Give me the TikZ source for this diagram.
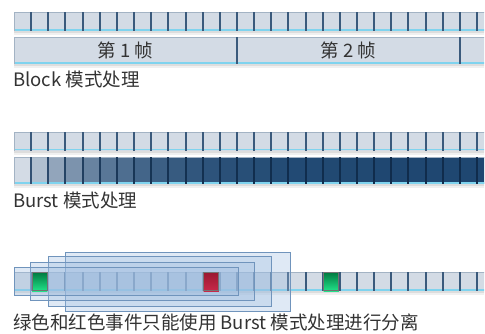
\documentclass[tikz,border=0pt]{standalone}
\usepackage{fontspec}
\setmainfont{Noto Sans CJK SC}
\definecolor{cellfill}{HTML}{D3DBE5}
\definecolor{celledge}{HTML}{3A5A7C}
\definecolor{darkedge}{HTML}{0F2C4C}
\definecolor{cellcyan}{HTML}{7FD3EE}
\definecolor{celltop}{HTML}{A3B3C4}
\definecolor{darkb}{HTML}{1D4670}
\definecolor{txt}{HTML}{333333}
\definecolor{winfill}{HTML}{9FBDE0}
\definecolor{winedge}{HTML}{7094BC}
\definecolor{gtop}{HTML}{007A40}
\definecolor{gbot}{HTML}{22E38A}
\definecolor{rtop}{HTML}{9A1830}
\definecolor{rbot}{HTML}{C8284A}
\def\cp{17.15}
\newcommand\rowshadow[1]{%
  \fill[black,opacity=0.06] (14,#1) rectangle (485,#1+4);
  \fill[black,opacity=0.08] (14,#1) rectangle (485,#1+2);
}
% full row frame: ytop, ybot
\newcommand\rowlines[2]{%
  \draw[celltop, line width=1pt] (14,#1+0.5) -- (485,#1+0.5);
  \draw[cellcyan, line width=1.8pt] (14,#2-1.3) -- (485,#2-1.3);
  \draw[celltop, line width=1pt] (14.5,#1) -- (14.5,#2);
}
\newcommand\cellrow[2]{%
  \rowshadow{#2}
  \fill[cellfill] (14,#1) rectangle (485,#2);
  \rowlines{#1}{#2}
  \foreach \i in {1,...,28} {
    \pgfmathsetmacro\xa{14+\i*\cp}
    \draw[celledge, line width=2pt] (\xa,#1) -- (\xa,#2);
  }
}
\tikzset{lbl/.style={text=txt, font=\fontsize{18.5}{22}\selectfont, inner sep=0pt},
  win/.style={fill=winfill, fill opacity=0.33, draw=winedge, line width=1pt}}
\begin{document}
\begin{tikzpicture}[x=1pt,y=-1pt]
\useasboundingbox (0,0) rectangle (485,333);
\clip (0,0) rectangle (484,333);
% ---------- Block
\cellrow{12}{31}
\rowshadow{64}
\fill[cellfill] (14,37.3) rectangle (485,64);
\rowlines{37.3}{64}
\foreach \i in {1,2} {
  \pgfmathsetmacro\xa{14+\i*13*\cp}
  \draw[celledge, line width=2pt] (\xa,37.3) -- (\xa,64);
}
\node[lbl] (f1) at ({14+6.5*\cp},50.5) {第 1 帧};
\node[lbl] (f2) at ({14+19.5*\cp},50.5) {第 2 帧};
\node[lbl, anchor=west] (t1) at (13,79) {Block 模式处理};
% ---------- Burst
\cellrow{132}{150.7}
\rowshadow{184}
\foreach \i in {0,...,27} {
  \pgfmathsetmacro\xa{14+\i*\cp}
  \pgfmathtruncatemacro\ff{100*(1-0.8^\i)}
  \fill[darkb!\ff!cellfill] (\xa,157.3) rectangle (\xa+\cp+0.05,184);
}
\rowlines{157.3}{184}
\foreach \i in {1,...,28} {
  \pgfmathsetmacro\xa{14+\i*\cp}
  \pgfmathtruncatemacro\ff{100*(1-0.8^\i)}
  \draw[darkedge!\ff!celledge, line width=2pt] (\xa,157.3) -- (\xa,184);
}
\node[lbl, anchor=west] (t2) at (13,200) {Burst 模式处理};
% ---------- windows
\cellrow{272.3}{291}
\draw[win] (65,252.3) rectangle (290,311.7);
\draw[win] (48.3,256.7) rectangle (271.7,306);
\draw[win] (30.5,262.7) rectangle (254.3,300.7);
\draw[win] (14,267.7) rectangle (238,295);
% events
\foreach \k/\ca/\cb in {1/gtop/gbot, 11/rtop/rbot, 18/gtop/gbot} {
  \pgfmathsetmacro\xa{14+\k*\cp}
  \shade[top color=\ca, bottom color=\cb] (\xa+1,272.3) rectangle (\xa+\cp-1,291);
  \draw[black!55, line width=0.8pt] (\xa+1,272.7) rectangle (\xa+\cp-1,290.6);
}
\node[lbl, anchor=west] (t3) at (13,322.5) {绿色和红色事件只能使用 Burst 模式处理进行分离};
\end{tikzpicture}
\end{document}
